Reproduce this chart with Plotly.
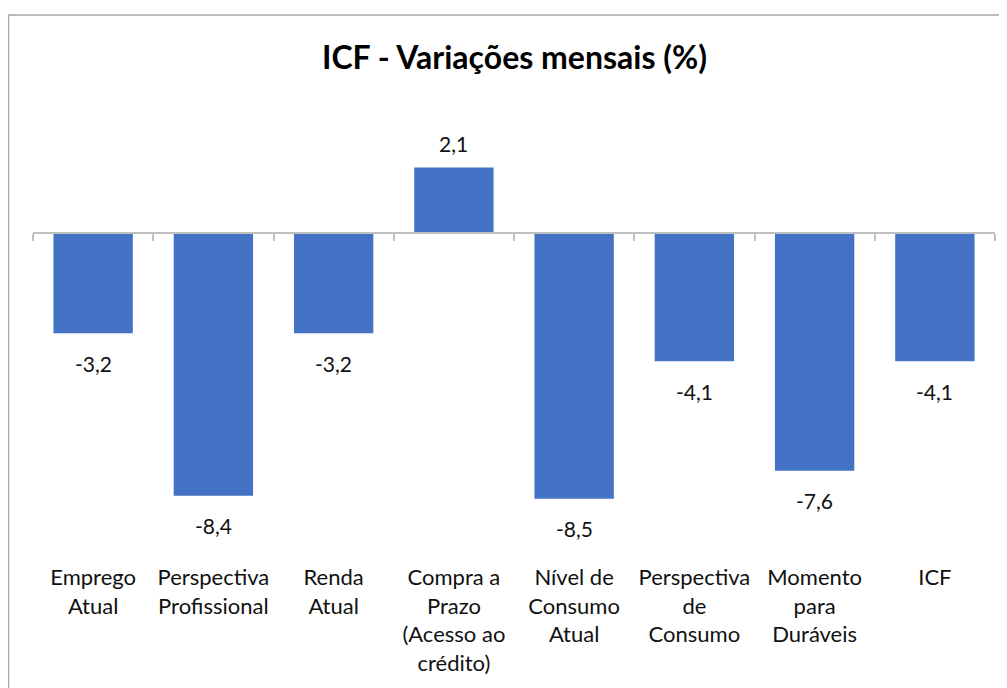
import plotly.graph_objects as go

categories = [
    "Emprego<br>Atual",
    "Perspectiva<br>Profissional",
    "Renda<br>Atual",
    "Compra a<br>Prazo<br>(Acesso ao<br>crédito)",
    "Nível de<br>Consumo<br>Atual",
    "Perspectiva<br>de<br>Consumo",
    "Momento<br>para<br>Duráveis",
    "ICF",
]
values = [-3.2, -8.4, -3.2, 2.1, -8.5, -4.1, -7.6, -4.1]
labels = [f"{v:.1f}".replace(".", ",") for v in values]

W, H = 1007, 688
L, R, T, B = 25, 20, 82, 134
ymin, ymax = -10.52, 4.58
FONT = "Lato, Open Sans, sans-serif"
n = len(categories)

fig = go.Figure()
fig.add_trace(go.Bar(
    x=list(range(n)), y=values,
    marker=dict(color="#4472C4", line=dict(width=0)),
    hoverinfo="skip",
))

annotations = []
for i, (v, t) in enumerate(zip(values, labels)):
    annotations.append(dict(
        x=i, y=v, xref="x", yref="y", text=t, showarrow=False,
        yanchor="middle", yshift=24 if v > 0 else -30,
        font=dict(family=FONT, size=21, color="#111111"),
    ))

zero_pos = (0 - ymin) / (ymax - ymin)
pw = W - L - R
ph = H - T - B

fig.update_layout(
    width=W, height=H,
    margin=dict(l=L, r=R, t=T, b=B),
    paper_bgcolor="white", plot_bgcolor="white",
    bargap=0.34, showlegend=False,
    title=dict(text="<b>ICF - Variações mensais (%)</b>", x=0.503, xanchor="center",
               y=1 - 50 / H, yanchor="middle",
               font=dict(family=FONT, size=32, color="#000000")),
    xaxis=dict(
        tickmode="array", tickvals=list(range(n)), ticktext=categories,
        range=[-0.5, n - 0.5],
        showline=False, showgrid=False, zeroline=False, ticks="",
        tickfont=dict(family=FONT, size=22, color="#111111"),
    ),
    xaxis2=dict(
        overlaying="x", anchor="free", position=zero_pos, side="bottom",
        range=[-0.5, n - 0.5],
        tickmode="array", tickvals=[i - 0.5 for i in range(n + 1)],
        showticklabels=False, showline=True, linecolor="#BFBFBF", linewidth=1.5,
        ticks="outside", ticklen=7, tickcolor="#BFBFBF", tickwidth=1.5,
        showgrid=False, zeroline=False,
    ),
    yaxis=dict(range=[ymin, ymax], visible=False, showgrid=False, zeroline=False),
    annotations=annotations,
    shapes=[dict(type="rect", xref="paper", yref="paper",
                 x0=(0.5 - L) / pw, x1=(W + 10 - L) / pw,
                 y0=-(B + 10) / ph, y1=1 + (T - 7) / ph,
                 line=dict(color="#A6A6A6", width=1.5), fillcolor="rgba(0,0,0,0)")],
)
fig.add_trace(go.Scatter(x=[0], y=[0], xaxis="x2", mode="markers",
                         marker=dict(opacity=0), hoverinfo="skip", showlegend=False))

fig.write_html("out.html")
